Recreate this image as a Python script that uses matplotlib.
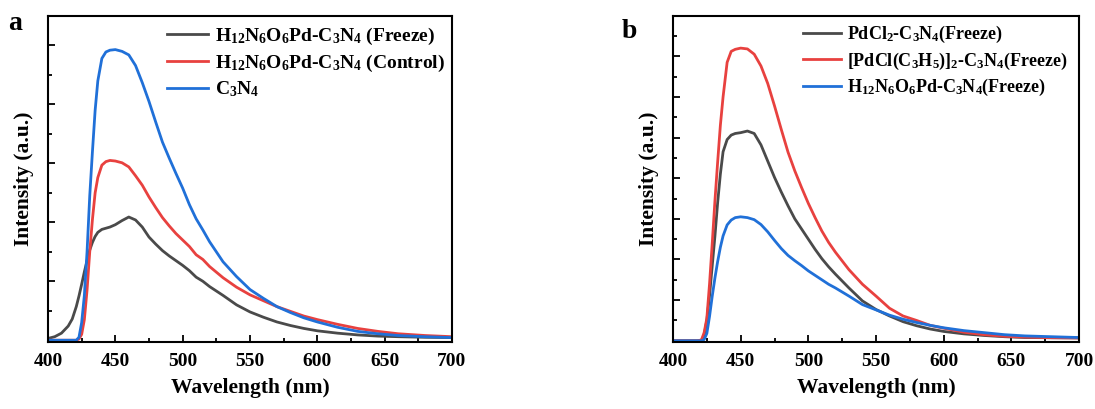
import matplotlib
matplotlib.use("Agg")
import matplotlib.pyplot as plt
from matplotlib.ticker import MultipleLocator

plt.rcParams['font.family'] = ['Liberation Serif', 'DejaVu Serif']
plt.rcParams['font.weight'] = 'bold'
plt.rcParams['mathtext.fontset'] = 'custom'
plt.rcParams['mathtext.rm'] = 'Liberation Serif:bold'
plt.rcParams['mathtext.default'] = 'rm'

# panel a data (arbitrary units)
wl_a = [400, 405, 410, 415, 418, 421, 423, 425, 427, 429, 431, 433, 435, 437, 440,
        443, 446, 450, 455, 460, 465, 470, 475, 480, 485, 490, 495, 500, 505, 510,
        515, 520, 530, 540, 550, 560, 570, 580, 590, 600, 615, 630, 645, 660, 680, 700]
freeze_a = [0.03, 0.06, 0.12, 0.24, 0.36, 0.57, 0.75, 0.95, 1.16, 1.35, 1.53, 1.66, 1.76, 1.83, 1.88,
            1.90, 1.92, 1.96, 2.03, 2.09, 2.04, 1.92, 1.75, 1.63, 1.52, 1.43, 1.35, 1.27, 1.18, 1.07,
            1.00, 0.91, 0.76, 0.60, 0.48, 0.39, 0.31, 0.25, 0.20, 0.16, 0.12, 0.09, 0.07, 0.06, 0.05, 0.045]
control_a = [0, 0, 0, 0, 0, 0, 0.02, 0.10, 0.35, 0.85, 1.50, 2.05, 2.50, 2.76, 2.97,
             3.03, 3.05, 3.04, 3.01, 2.94, 2.79, 2.63, 2.43, 2.25, 2.08, 1.94, 1.81, 1.70, 1.59, 1.45,
             1.37, 1.25, 1.06, 0.90, 0.77, 0.67, 0.57, 0.49, 0.41, 0.35, 0.27, 0.20, 0.15, 0.11, 0.08, 0.06]
c3n4_a = [0, 0, 0, 0, 0, 0, 0.05, 0.30, 0.76, 1.50, 2.45, 3.20, 3.90, 4.40, 4.78,
          4.89, 4.92, 4.93, 4.90, 4.84, 4.66, 4.37, 4.05, 3.70, 3.36, 3.09, 2.83, 2.58, 2.30, 2.06,
          1.87, 1.67, 1.33, 1.08, 0.86, 0.71, 0.57, 0.47, 0.38, 0.31, 0.22, 0.15, 0.11, 0.08, 0.06, 0.045]
labels_a = [r'H$_{12}$N$_6$O$_6$Pd-C$_3$N$_4$ (Freeze)',
            r'H$_{12}$N$_6$O$_6$Pd-C$_3$N$_4$ (Control)',
            r'C$_3$N$_4$']

# panel b data
wl_b = [400, 410, 418, 421, 423, 425, 427, 429, 431, 433, 435, 437, 440, 443, 446,
        450, 455, 460, 465, 470, 475, 480, 485, 490, 495, 500, 505, 510, 515, 520,
        530, 540, 550, 560, 570, 580, 590, 600, 615, 630, 645, 660, 680, 700]
pdcl2_b = [0, 0, 0, 0.01, 0.13, 0.50, 1.11, 1.85, 2.58, 3.40, 4.10, 4.65, 4.95, 5.06, 5.10,
           5.12, 5.16, 5.10, 4.82, 4.42, 4.02, 3.66, 3.32, 3.00, 2.75, 2.50, 2.25, 2.02, 1.82, 1.64,
           1.30, 0.98, 0.77, 0.61, 0.47, 0.37, 0.29, 0.23, 0.17, 0.13, 0.10, 0.08, 0.075, 0.07]
allyl_b = [0, 0, 0, 0.02, 0.20, 0.55, 1.40, 2.40, 3.45, 4.40, 5.30, 6.00, 6.85, 7.12, 7.17,
           7.20, 7.18, 7.05, 6.76, 6.33, 5.78, 5.20, 4.64, 4.18, 3.77, 3.38, 3.03, 2.70, 2.42, 2.18,
           1.75, 1.39, 1.10, 0.80, 0.61, 0.50, 0.38, 0.31, 0.21, 0.15, 0.11, 0.09, 0.075, 0.07]
nitrate_b = [0, 0, 0, 0, 0.03, 0.18, 0.60, 1.10, 1.55, 1.95, 2.30, 2.58, 2.85, 2.97, 3.03,
             3.05, 3.03, 2.98, 2.86, 2.68, 2.47, 2.27, 2.10, 1.97, 1.85, 1.72, 1.61, 1.50, 1.39, 1.30,
             1.10, 0.89, 0.76, 0.63, 0.53, 0.45, 0.38, 0.32, 0.25, 0.20, 0.15, 0.12, 0.10, 0.08]
labels_b = [r'PdCl$_2$-C$_3$N$_4$(Freeze)',
            r'[PdCl(C$_3$H$_5$)]$_2$-C$_3$N$_4$(Freeze)',
            r'H$_{12}$N$_6$O$_6$Pd-C$_3$N$_4$(Freeze)']

colors = ['#4a4a4a', '#e8413f', '#2070d8']

fig = plt.figure(figsize=(10.95, 4.09), dpi=100)
ax_a = fig.add_axes([48 / 1095, 67 / 409, 404 / 1095, 326 / 409])
ax_b = fig.add_axes([673 / 1095, 67 / 409, 406 / 1095, 326 / 409])


def style_axis(ax, ymax, legend_x, legend_y, legend_size):
    ax.set_xlim(400, 700)
    ax.set_ylim(-0.03, ymax)
    ax.xaxis.set_major_locator(MultipleLocator(50))
    ax.xaxis.set_minor_locator(MultipleLocator(25))
    ax.yaxis.set_major_locator(MultipleLocator(1))
    ax.yaxis.set_minor_locator(MultipleLocator(0.5))
    ax.tick_params(which='both', direction='in', top=False, right=False, width=1.3)
    ax.tick_params(which='major', length=5, labelsize=14, pad=8)
    ax.tick_params(which='minor', length=3)
    ax.set_yticklabels([])
    for s in ax.spines.values():
        s.set_linewidth(1.5)
    ax.set_xlabel('Wavelength (nm)', fontsize=15.5, fontweight='bold', labelpad=6)
    ax.set_ylabel('Intensity (a.u.)', fontsize=15.5, fontweight='bold', labelpad=2)
    ax.legend(loc='upper left', bbox_to_anchor=(legend_x, legend_y), frameon=False,
              fontsize=legend_size, handlelength=2.1, handletextpad=0.35, labelspacing=0.3,
              borderaxespad=0, borderpad=0)


for y, lab, c in zip([freeze_a, control_a, c3n4_a], labels_a, colors):
    ax_a.plot(wl_a, y, color=c, lw=2, label=lab)
style_axis(ax_a, 5.5, 0.295, 0.97, 14)

for y, lab, c in zip([pdcl2_b, allyl_b, nitrate_b], labels_b, colors):
    ax_b.plot(wl_b, y, color=c, lw=2, label=lab)
style_axis(ax_b, 7.99, 0.32, 0.975, 13)

fig.text(8 / 1095, 1 - 30 / 409, 'a', fontsize=20, fontweight='bold')
fig.text(622 / 1095, 1 - 38 / 409, 'b', fontsize=20, fontweight='bold')

fig.savefig('out.png', dpi=100)
